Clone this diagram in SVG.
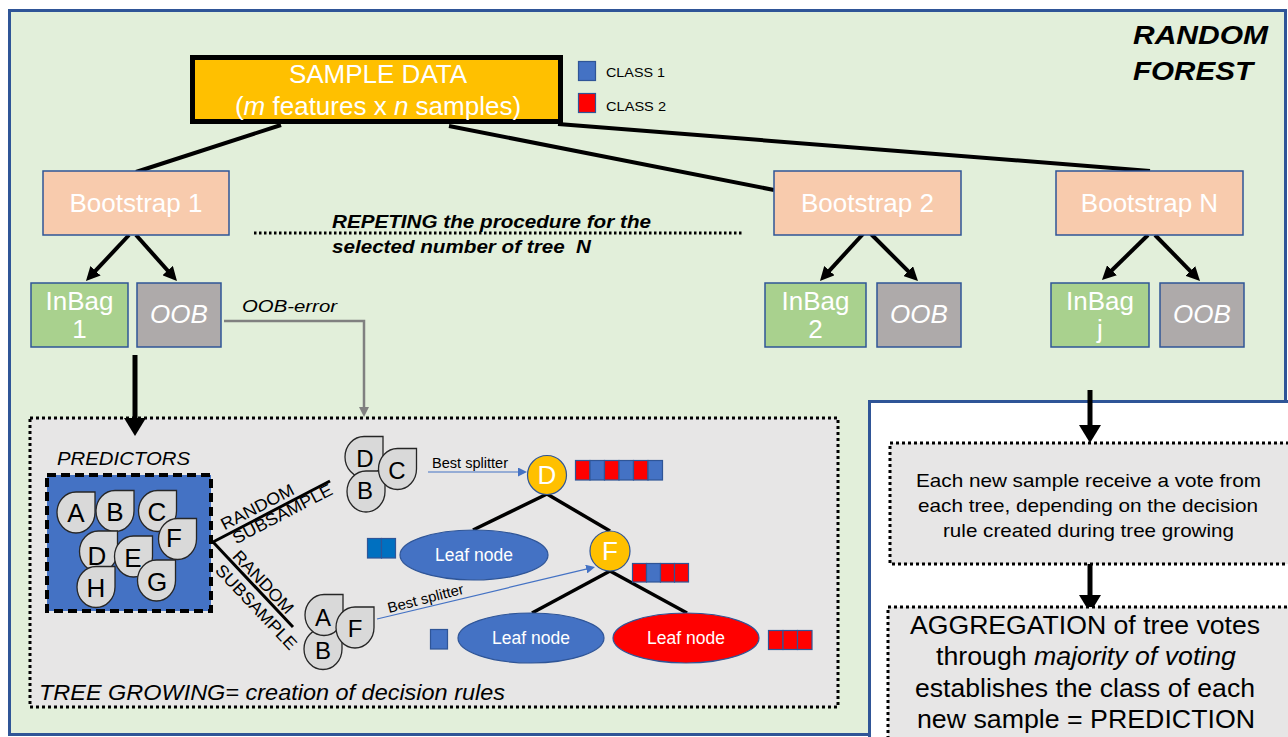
<svg xmlns="http://www.w3.org/2000/svg" width="1288" height="737" viewBox="0 0 1288 737">
  <defs>
    <style>
      text{font-family:"Liberation Sans",Arial,sans-serif;}
      .w{fill:#fff;font-size:26px;text-anchor:middle}
      .box{stroke:#2F5597;stroke-width:1.5}
      .boot{fill:#F8CBAD}
      .inbag{fill:#A9D18E}
      .oob{fill:#AEAAAA}
      .conn{stroke:#000;stroke-width:4;fill:none}
      .dotbox{fill:#E7E6E6;stroke:#000;stroke-width:3;stroke-dasharray:3 3}
      .drop{fill:#D9D9D9;stroke:#262626;stroke-width:1.3}
      .dl{font-size:26px;text-anchor:middle;fill:#000}
      .dls{font-size:24px;text-anchor:middle;fill:#000}
      .red{fill:#FF0000;stroke:#2F5597;stroke-width:1.2}
      .blue{fill:#4472C4;stroke:#2F5597;stroke-width:1.2}
      .sub{font-size:17px;text-anchor:middle;fill:#000}
      .rt{font-size:18.5px;text-anchor:middle;fill:#000}
      .rt2{font-size:25.5px;text-anchor:middle;fill:#000}
    </style>
    <!-- teardrop predictor shape, pointed corner top-right -->
    <path id="drop" d="M19,0 A19,20.5 0 1 1 0,-20.5 L19,-20.5 Z"/>
    <marker id="ah" markerUnits="userSpaceOnUse" markerWidth="14" markerHeight="14" refX="4" refY="7" orient="auto">
      <path d="M0,0 L14,7 L0,14 Z" fill="#000"/>
    </marker>
    <marker id="ahb" markerUnits="userSpaceOnUse" markerWidth="18" markerHeight="22" refX="4" refY="11" orient="auto">
      <path d="M0,0 L18,11 L0,22 Z" fill="#000"/>
    </marker>
    <marker id="ahg" markerUnits="userSpaceOnUse" markerWidth="10" markerHeight="10" refX="3" refY="5" orient="auto">
      <path d="M0,0 L10,5 L0,10 Z" fill="#808080"/>
    </marker>
    <marker id="ahs" markerUnits="userSpaceOnUse" markerWidth="9" markerHeight="9" refX="2" refY="4.5" orient="auto">
      <path d="M0,0 L9,4.5 L0,9 Z" fill="#4472C4"/>
    </marker>
  </defs>

  <!-- outer random forest frame -->
  <rect x="9.5" y="10.5" width="1276" height="724" fill="#E2EFDA" stroke="#2F5597" stroke-width="3"/>
  <text x="1133" y="44" font-size="26" font-weight="bold" font-style="italic" textLength="135" lengthAdjust="spacingAndGlyphs">RANDOM</text>
  <text x="1133" y="80" font-size="26" font-weight="bold" font-style="italic" textLength="120" lengthAdjust="spacingAndGlyphs">FOREST</text>

  <!-- prediction panel -->
  <rect x="869.5" y="401.5" width="430" height="350" fill="#fff" stroke="#2F5597" stroke-width="3"/>

  <!-- tree growing panel -->
  <g id="tree-panel">
    <rect class="dotbox" x="30" y="418" width="808" height="289"/>
    <text x="39" y="700" font-size="21.5" font-style="italic" textLength="466" lengthAdjust="spacingAndGlyphs">TREE GROWING= creation of decision rules</text>
  </g>

  <!-- connectors -->
  <g id="connectors">
    <line class="conn" x1="281" y1="125" x2="136" y2="172"/>
    <line class="conn" x1="449" y1="126" x2="774" y2="190"/>
    <line class="conn" x1="558" y1="124" x2="1150" y2="171"/>

    <line class="conn" x1="129" y1="235" x2="92.8" y2="273.7" marker-end="url(#ah)"/>
    <line class="conn" x1="136" y1="235" x2="170.3" y2="273.5" marker-end="url(#ah)"/>
    <line class="conn" x1="863" y1="234" x2="826.7" y2="273.6" marker-end="url(#ah)"/>
    <line class="conn" x1="871" y1="234" x2="910.9" y2="273.9" marker-end="url(#ah)"/>
    <line class="conn" x1="1148" y1="235" x2="1109.1" y2="273" marker-end="url(#ah)"/>
    <line class="conn" x1="1155" y1="235" x2="1193" y2="273.8" marker-end="url(#ah)"/>

    <line x1="254" y1="233" x2="742" y2="233" stroke="#000" stroke-width="3" stroke-dasharray="2.5 2.5"/>

    <path d="M224,321 H364 V410" fill="none" stroke="#808080" stroke-width="2.5" marker-end="url(#ahg)"/>
    <line x1="135" y1="355" x2="135" y2="422" stroke="#000" stroke-width="5" marker-end="url(#ahb)"/>
    <line x1="1090" y1="390" x2="1090" y2="429" stroke="#000" stroke-width="5" marker-end="url(#ahb)"/>
    <line x1="1090" y1="562" x2="1090" y2="599" stroke="#000" stroke-width="5" marker-end="url(#ahb)"/>

    <!-- random subsample branches -->
    <line x1="213" y1="542" x2="330" y2="481" stroke="#000" stroke-width="3"/>
    <line x1="213" y1="542" x2="293" y2="627" stroke="#000" stroke-width="3"/>

    <!-- decision tree edges -->
    <line x1="547" y1="494" x2="473" y2="530" stroke="#000" stroke-width="3.5"/>
    <line x1="547" y1="494" x2="610" y2="531" stroke="#000" stroke-width="3.5"/>
    <line x1="610" y1="571" x2="532" y2="613" stroke="#000" stroke-width="3.5"/>
    <line x1="610" y1="571" x2="687" y2="613" stroke="#000" stroke-width="3.5"/>

    <!-- best splitter arrows -->
    <line x1="428" y1="472" x2="520" y2="472" stroke="#4472C4" stroke-width="1.2" marker-end="url(#ahs)"/>
    <line x1="377" y1="619" x2="588.2" y2="568.6" stroke="#4472C4" stroke-width="1.2" marker-end="url(#ahs)"/>
  </g>

  <!-- sample data -->
  <g id="sample-data">
    <rect x="192.5" y="57.5" width="368" height="64" fill="#FFC000" stroke="#000" stroke-width="5"/>
    <text class="w" x="378" y="83">SAMPLE DATA</text>
    <text class="w" x="378" y="115">(<tspan font-style="italic">m</tspan> features x <tspan font-style="italic">n</tspan> samples)</text>
  </g>

  <!-- legend -->
  <g id="legend">
    <rect class="blue" x="578.5" y="61.5" width="17" height="19"/>
    <text x="606" y="77" font-size="13.5" textLength="59" lengthAdjust="spacingAndGlyphs">CLASS 1</text>
    <rect class="red" x="578.5" y="93.5" width="17" height="19"/>
    <text x="606" y="111" font-size="13.5" textLength="60" lengthAdjust="spacingAndGlyphs">CLASS 2</text>
  </g>

  <!-- bootstraps -->
  <g id="bootstrap-1">
    <rect class="box boot" x="43" y="171" width="186" height="64"/>
    <text class="w" x="136" y="212">Bootstrap 1</text>
  </g>
  <g id="bootstrap-2">
    <rect class="box boot" x="774" y="171" width="187" height="64"/>
    <text class="w" x="867.5" y="212">Bootstrap 2</text>
  </g>
  <g id="bootstrap-n">
    <rect class="box boot" x="1056" y="171" width="187" height="64"/>
    <text class="w" x="1149.5" y="212">Bootstrap N</text>
  </g>

  <!-- in-bag / out-of-bag -->
  <g id="inbag-1">
    <rect class="box inbag" x="31" y="283" width="97" height="64"/>
    <text class="w" x="79.5" y="310">InBag</text>
    <text class="w" x="79.5" y="338">1</text>
  </g>
  <g id="oob-1">
    <rect class="box oob" x="137" y="283" width="84" height="64"/>
    <text class="w" x="179" y="323" font-style="italic">OOB</text>
  </g>
  <g id="inbag-2">
    <rect class="box inbag" x="765" y="283" width="101" height="64"/>
    <text class="w" x="815.5" y="310">InBag</text>
    <text class="w" x="815.5" y="338">2</text>
  </g>
  <g id="oob-2">
    <rect class="box oob" x="877" y="283" width="84" height="64"/>
    <text class="w" x="919" y="323" font-style="italic">OOB</text>
  </g>
  <g id="inbag-j">
    <rect class="box inbag" x="1051" y="283" width="98" height="64"/>
    <text class="w" x="1100" y="310">InBag</text>
    <text class="w" x="1100" y="338">j</text>
  </g>
  <g id="oob-j">
    <rect class="box oob" x="1160" y="283" width="84" height="64"/>
    <text class="w" x="1202" y="323" font-style="italic">OOB</text>
  </g>

  <!-- labels -->
  <g id="labels">
    <text x="332" y="228" font-size="18" font-weight="bold" font-style="italic" textLength="319" lengthAdjust="spacingAndGlyphs">REPETING the procedure for the</text>
    <text x="332" y="253" font-size="18" font-weight="bold" font-style="italic" textLength="259" lengthAdjust="spacingAndGlyphs">selected number of tree&#160; N</text>
    <text x="242" y="312" font-size="17" font-style="italic" textLength="95" lengthAdjust="spacingAndGlyphs">OOB-error</text>
    <text class="sub" x="260" y="512" transform="rotate(-27.5 260 512)" textLength="80" lengthAdjust="spacingAndGlyphs">RANDOM</text>
    <text class="sub" x="285" y="519" transform="rotate(-27.5 285 519)" textLength="110" lengthAdjust="spacingAndGlyphs">SUBSAMPLE</text>
    <text class="sub" x="259" y="586" transform="rotate(46.7 259 586)" textLength="80" lengthAdjust="spacingAndGlyphs">RANDOM</text>
    <text class="sub" x="252" y="611" transform="rotate(46.7 252 611)" textLength="110" lengthAdjust="spacingAndGlyphs">SUBSAMPLE</text>
    <text x="432" y="468" font-size="14.5" textLength="76" lengthAdjust="spacingAndGlyphs">Best splitter</text>
    <text x="389" y="613" font-size="14.5" transform="rotate(-14.5 389 613)" textLength="78" lengthAdjust="spacingAndGlyphs">Best splitter</text>
  </g>

  <!-- predictors -->
  <g id="predictors">
    <text x="57" y="465" font-size="18" font-style="italic" textLength="133" lengthAdjust="spacingAndGlyphs">PREDICTORS</text>
    <rect x="47" y="475" width="164" height="136" fill="#4472C4" stroke="#000" stroke-width="4" stroke-dasharray="9 5"/>
    <use href="#drop" class="drop" x="76" y="512.5"/>
    <text class="dl" x="76" y="522">A</text>
    <use href="#drop" class="drop" x="115" y="511"/>
    <text class="dl" x="115" y="521">B</text>
    <use href="#drop" class="drop" x="157.5" y="511"/>
    <text class="dl" x="157" y="521">C</text>
    <use href="#drop" class="drop" x="177.5" y="539"/>
    <text class="dl" x="174" y="547">F</text>
    <use href="#drop" class="drop" x="98.5" y="551.5"/>
    <text class="dl" x="97" y="565">D</text>
    <use href="#drop" class="drop" x="133.5" y="556.5"/>
    <text class="dl" x="133" y="567">E</text>
    <use href="#drop" class="drop" x="96" y="587"/>
    <text class="dl" x="96" y="597">H</text>
    <use href="#drop" class="drop" x="156.5" y="580.5"/>
    <text class="dl" x="157" y="591">G</text>
  </g>

  <!-- first random subsample -->
  <g id="subsample-1">
    <use href="#drop" class="drop" x="364" y="457"/>
    <text class="dls" x="365" y="466.5">D</text>
    <use href="#drop" class="drop" x="366" y="491.5"/>
    <text class="dls" x="365" y="499">B</text>
    <use href="#drop" class="drop" x="397.5" y="469"/>
    <text class="dls" x="397" y="478.5">C</text>
  </g>

  <!-- second random subsample -->
  <g id="subsample-2">
    <use href="#drop" class="drop" x="323" y="649"/>
    <text class="dls" x="323" y="658.5">B</text>
    <use href="#drop" class="drop" x="324" y="615"/>
    <text class="dls" x="323" y="625.5">A</text>
    <use href="#drop" class="drop" x="355" y="627.5"/>
    <text class="dls" x="355" y="636.5">F</text>
  </g>

  <!-- decision tree -->
  <g id="node-d">
    <circle cx="547" cy="475" r="19.5" fill="#FFC000" stroke="#2F5597" stroke-width="1.2"/>
    <text class="w" x="547" y="484">D</text>
  </g>
  <g id="votes-d">
    <rect class="red" x="575.5" y="460.5" width="14.5" height="19.5"/>
    <rect class="blue" x="590" y="460.5" width="14.5" height="19.5"/>
    <rect class="red" x="604.5" y="460.5" width="14.5" height="19.5"/>
    <rect class="blue" x="619" y="460.5" width="14.5" height="19.5"/>
    <rect class="red" x="633.5" y="460.5" width="14.5" height="19.5"/>
    <rect class="blue" x="648" y="460.5" width="14.5" height="19.5"/>
  </g>
  <g id="leaf-1">
    <ellipse cx="474" cy="555" rx="74" ry="25" fill="#4472C4" stroke="#2F5597" stroke-width="1.2"/>
    <text x="474" y="561" font-size="17.5" fill="#fff" text-anchor="middle">Leaf node</text>
  </g>
  <g id="votes-leaf-1">
    <rect x="367.5" y="538.5" width="14" height="19.5" fill="#0070C0" stroke="#2F5597" stroke-width="1.2"/>
    <rect x="381.5" y="538.5" width="14" height="19.5" fill="#0070C0" stroke="#2F5597" stroke-width="1.2"/>
  </g>
  <g id="node-f">
    <circle cx="610" cy="551" r="20" fill="#FFC000" stroke="#2F5597" stroke-width="1.2"/>
    <text class="w" x="610" y="560">F</text>
  </g>
  <g id="votes-f">
    <rect class="red" x="632.5" y="563.5" width="14" height="18.5"/>
    <rect class="blue" x="646.5" y="563.5" width="14" height="18.5"/>
    <rect class="red" x="660.5" y="563.5" width="14" height="18.5"/>
    <rect class="red" x="674.5" y="563.5" width="14" height="18.5"/>
  </g>
  <g id="leaf-2">
    <ellipse cx="531" cy="638" rx="73" ry="25" fill="#4472C4" stroke="#2F5597" stroke-width="1.2"/>
    <text x="531" y="644" font-size="17.5" fill="#fff" text-anchor="middle">Leaf node</text>
  </g>
  <g id="votes-leaf-2">
    <rect class="blue" x="430.5" y="629.5" width="17" height="19.5"/>
  </g>
  <g id="leaf-3">
    <ellipse cx="686" cy="638" rx="73" ry="25" fill="#FF0000" stroke="#2F5597" stroke-width="1.2"/>
    <text x="686" y="644" font-size="17.5" fill="#fff" text-anchor="middle">Leaf node</text>
  </g>
  <g id="votes-leaf-3">
    <rect class="red" x="768.5" y="630.5" width="14.5" height="19"/>
    <rect class="red" x="783" y="630.5" width="14.5" height="19"/>
    <rect class="red" x="797.5" y="630.5" width="14.5" height="19"/>
  </g>

  <!-- voting -->
  <g id="vote">
    <rect class="dotbox" x="890" y="443" width="410" height="121"/>
    <text class="rt" x="1088.5" y="487" textLength="345" lengthAdjust="spacingAndGlyphs">Each new sample receive a vote from</text>
    <text class="rt" x="1088" y="512" textLength="340" lengthAdjust="spacingAndGlyphs">each tree, depending on the decision</text>
    <text class="rt" x="1088.5" y="537" textLength="291" lengthAdjust="spacingAndGlyphs">rule created during tree growing</text>
  </g>

  <!-- aggregation -->
  <g id="aggregation">
    <rect class="dotbox" x="888" y="607" width="412" height="140"/>
    <text class="rt2" x="1085" y="634" textLength="350" lengthAdjust="spacingAndGlyphs">AGGREGATION of tree votes</text>
    <text class="rt2" x="1086" y="665" textLength="300" lengthAdjust="spacingAndGlyphs">through <tspan font-style="italic">majority of voting</tspan></text>
    <text class="rt2" x="1085" y="697" textLength="340" lengthAdjust="spacingAndGlyphs">establishes the class of each</text>
    <text class="rt2" x="1086" y="728" textLength="338" lengthAdjust="spacingAndGlyphs">new sample = PREDICTION</text>
  </g>
</svg>
